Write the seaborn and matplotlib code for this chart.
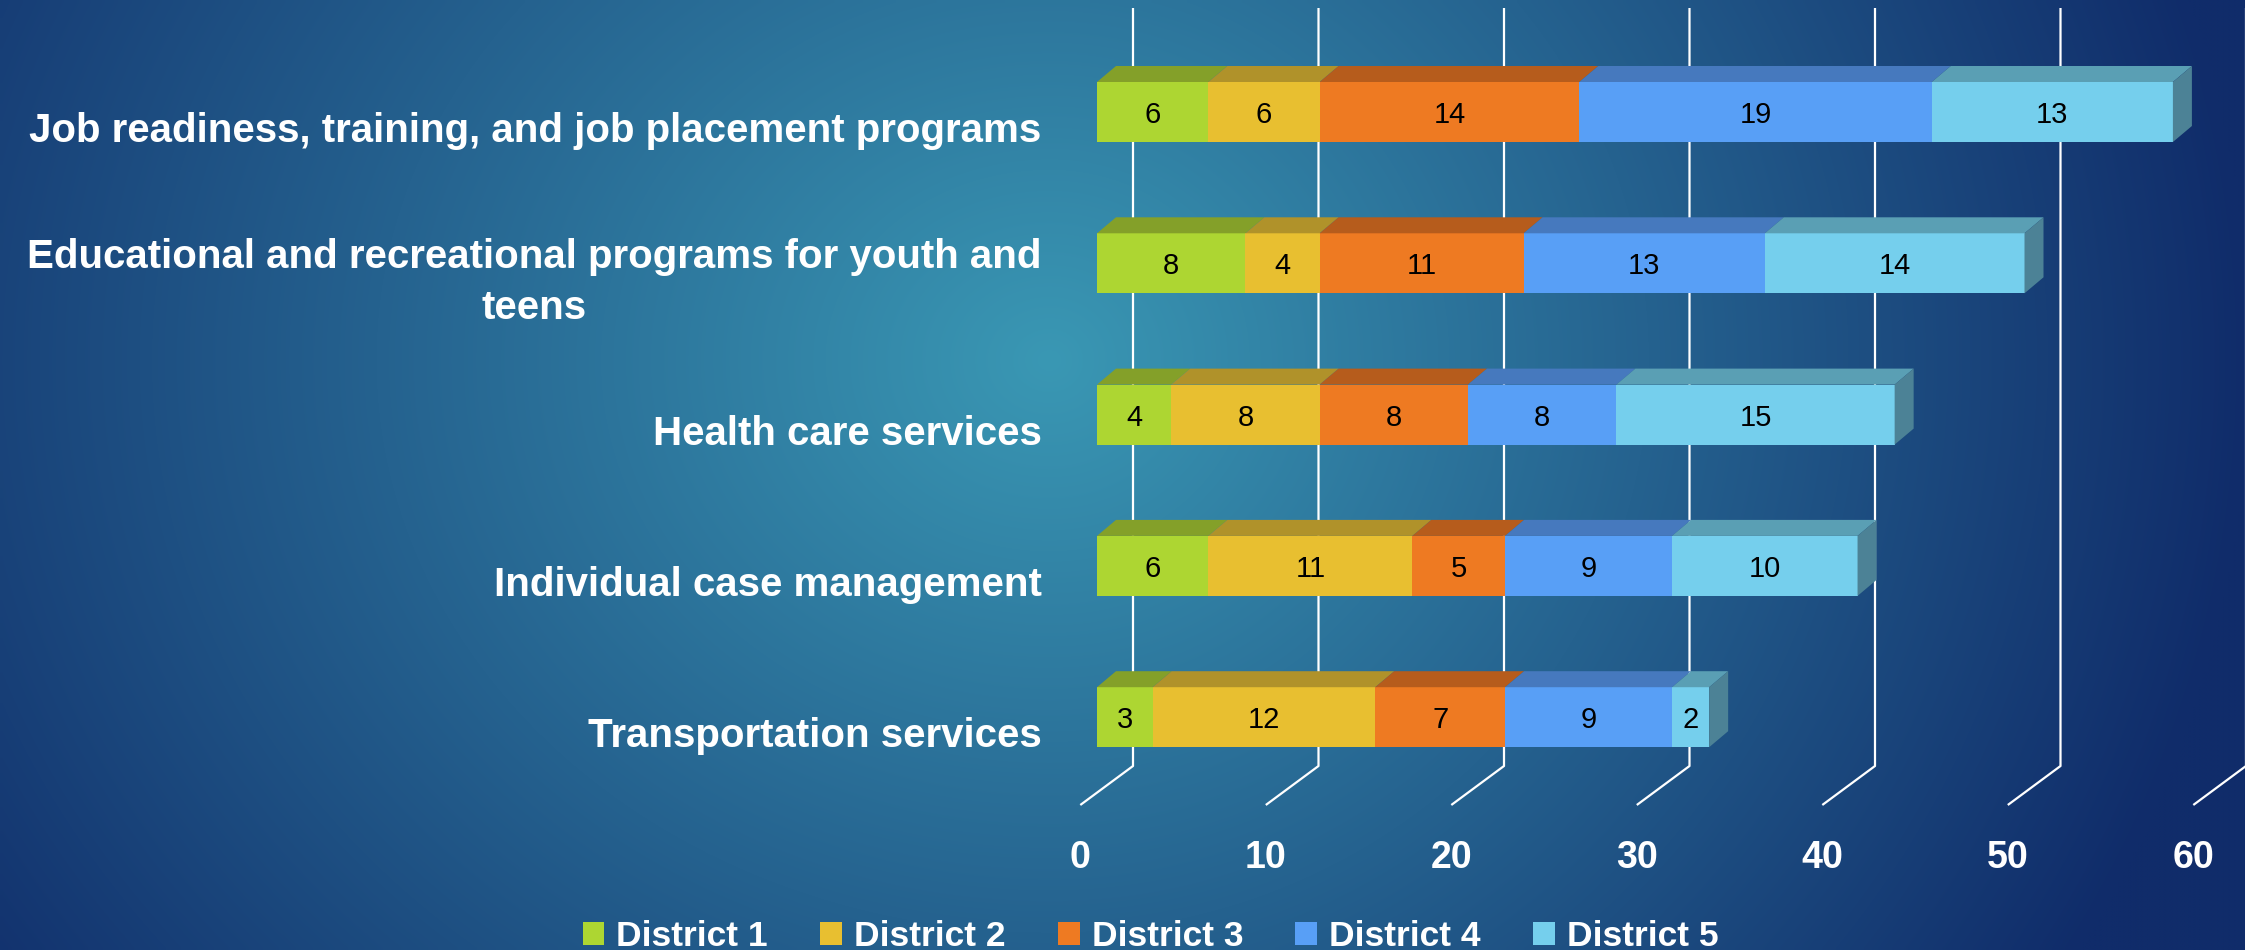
import numpy as np
import pandas as pd
import matplotlib
matplotlib.use("Agg")
import matplotlib.pyplot as plt
import seaborn as sns
from matplotlib.patches import Polygon, Patch

# ---- data ----
categories = [
    "Job readiness, training, and job placement programs",
    "Educational and recreational programs for youth and\nteens",
    "Health care services",
    "Individual case management",
    "Transportation services",
]
districts = ["District 1", "District 2", "District 3", "District 4", "District 5"]
district_1 = [6, 8, 4, 6, 3]
district_2 = [6, 4, 8, 11, 12]
district_3 = [14, 11, 8, 5, 7]
district_4 = [19, 13, 8, 9, 9]
district_5 = [13, 14, 15, 10, 2]
x_ticks = [0, 10, 20, 30, 40, 50, 60]

front_colors = ["#ADD632", "#E8BF30", "#EE7A22", "#589FF6", "#75CFED"]
top_colors = ["#84A029", "#B0922A", "#B65C1C", "#4679BE", "#5A9FB4"]
side_color = "#4C8296"

# ---- layout (pixels) ----
W, H = 2245, 950
X0_PX, PXU = 1097, 18.55       # front face x of value 0, pixels per unit
Y0_PX, ROW_PX = 112, 151.3     # first row centre from top, row pitch
BAR_H = 60 / ROW_PX
DEPTH = (19, 16)               # bar depth offset (right, up)
WALL_DX, FLOOR_DX = 36, -16.7  # gridline wall / floor front offsets


def dx(px):
    return px / PXU


def row(py):
    return (py - Y0_PX) / ROW_PX


sns.set_theme(style="white")
plt.rcParams["font.family"] = ["Liberation Sans", "DejaVu Sans"]

fig = plt.figure(figsize=(W / 100, H / 100), dpi=100)

# background gradient
bg = fig.add_axes([0, 0, 1, 1], zorder=0)
gx, gy = np.meshgrid(np.linspace(0, W, 450), np.linspace(0, H, 190))
rx = np.where(gx < 1050, 1350, 1200)
t = np.sqrt(((gx - 1050) / rx) ** 2 + ((gy - 360) / 1150) ** 2).clip(0, 1)
teal = np.array([58, 152, 180]) / 255
navy = np.array([16, 44, 106]) / 255
img = teal * (1 - t[..., None]) + navy * t[..., None]
bg.imshow(img, extent=[0, W, H, 0], aspect="auto", interpolation="bilinear")
bg.set_axis_off()

ax = fig.add_axes([0, 0, 1, 1], zorder=1)
ax.patch.set_alpha(0)

df = pd.DataFrame({"category": categories, "District 1": district_1,
                   "District 2": district_2, "District 3": district_3,
                   "District 4": district_4, "District 5": district_5})
cum = df[districts].cumsum(axis=1)
cum["category"] = df["category"]

# gridlines on back wall, bending onto the floor
for v in x_ticks:
    ax.plot([v + dx(WALL_DX), v + dx(WALL_DX), v + dx(FLOOR_DX)],
            [row(8), row(766), row(805)], color="white", lw=1.6, zorder=1,
            solid_capstyle="butt")
    ax.text(v + dx(FLOOR_DX), row(858), str(v), ha="center", va="center",
            fontsize=27, fontweight="bold", color="white")

# stacked bars: longest cumulative first, shorter ones on top
for k in reversed(range(len(districts))):
    sns.barplot(data=cum, x=districts[k], y="category", orient="h",
                color=front_colors[k], saturation=1, width=BAR_H,
                edgecolor="none", linewidth=0, ax=ax, zorder=3)

ax.set_xlim(-X0_PX / PXU, (W - X0_PX) / PXU)
ax.set_ylim((H - Y0_PX) / ROW_PX, -Y0_PX / ROW_PX)
ax.set_axis_off()

ddx, ddy = dx(DEPTH[0]), DEPTH[1] / ROW_PX
for i in range(len(categories)):
    top = i - BAR_H / 2
    bot = i + BAR_H / 2
    left = 0
    for k, d in enumerate(districts):
        val = df.loc[i, d]
        right = left + val
        ax.add_patch(Polygon([(left, top), (right, top), (right + ddx, top - ddy),
                              (left + ddx, top - ddy)], closed=True,
                             facecolor=top_colors[k], edgecolor="none", zorder=3))
        ax.text((left + right) / 2, i, str(val), ha="center", va="center_baseline",
                fontsize=21, color="black", zorder=5)
        left = right
    ax.add_patch(Polygon([(left, top), (left + ddx, top - ddy), (left + ddx, bot - ddy),
                          (left, bot)], closed=True, facecolor=side_color,
                         edgecolor="none", zorder=3))
    ax.text(dx(1041.5 - X0_PX), i + 19 / ROW_PX, categories[i], ha="right",
            va="center", multialignment="center", fontsize=29, fontweight="bold",
            color="white", linespacing=1.42)

handles = [Patch(facecolor=c, edgecolor="none") for c in front_colors]
fig.legend(handles, districts, loc="center", bbox_to_anchor=(0.5125, 14 / H),
           ncol=5, frameon=False, labelcolor="white",
           prop={"weight": "bold", "size": 25.5}, handlelength=0.62,
           handleheight=0.62, handletextpad=0.34, columnspacing=1.47,
           borderpad=0, borderaxespad=0)

fig.savefig("out.png", dpi=100)
